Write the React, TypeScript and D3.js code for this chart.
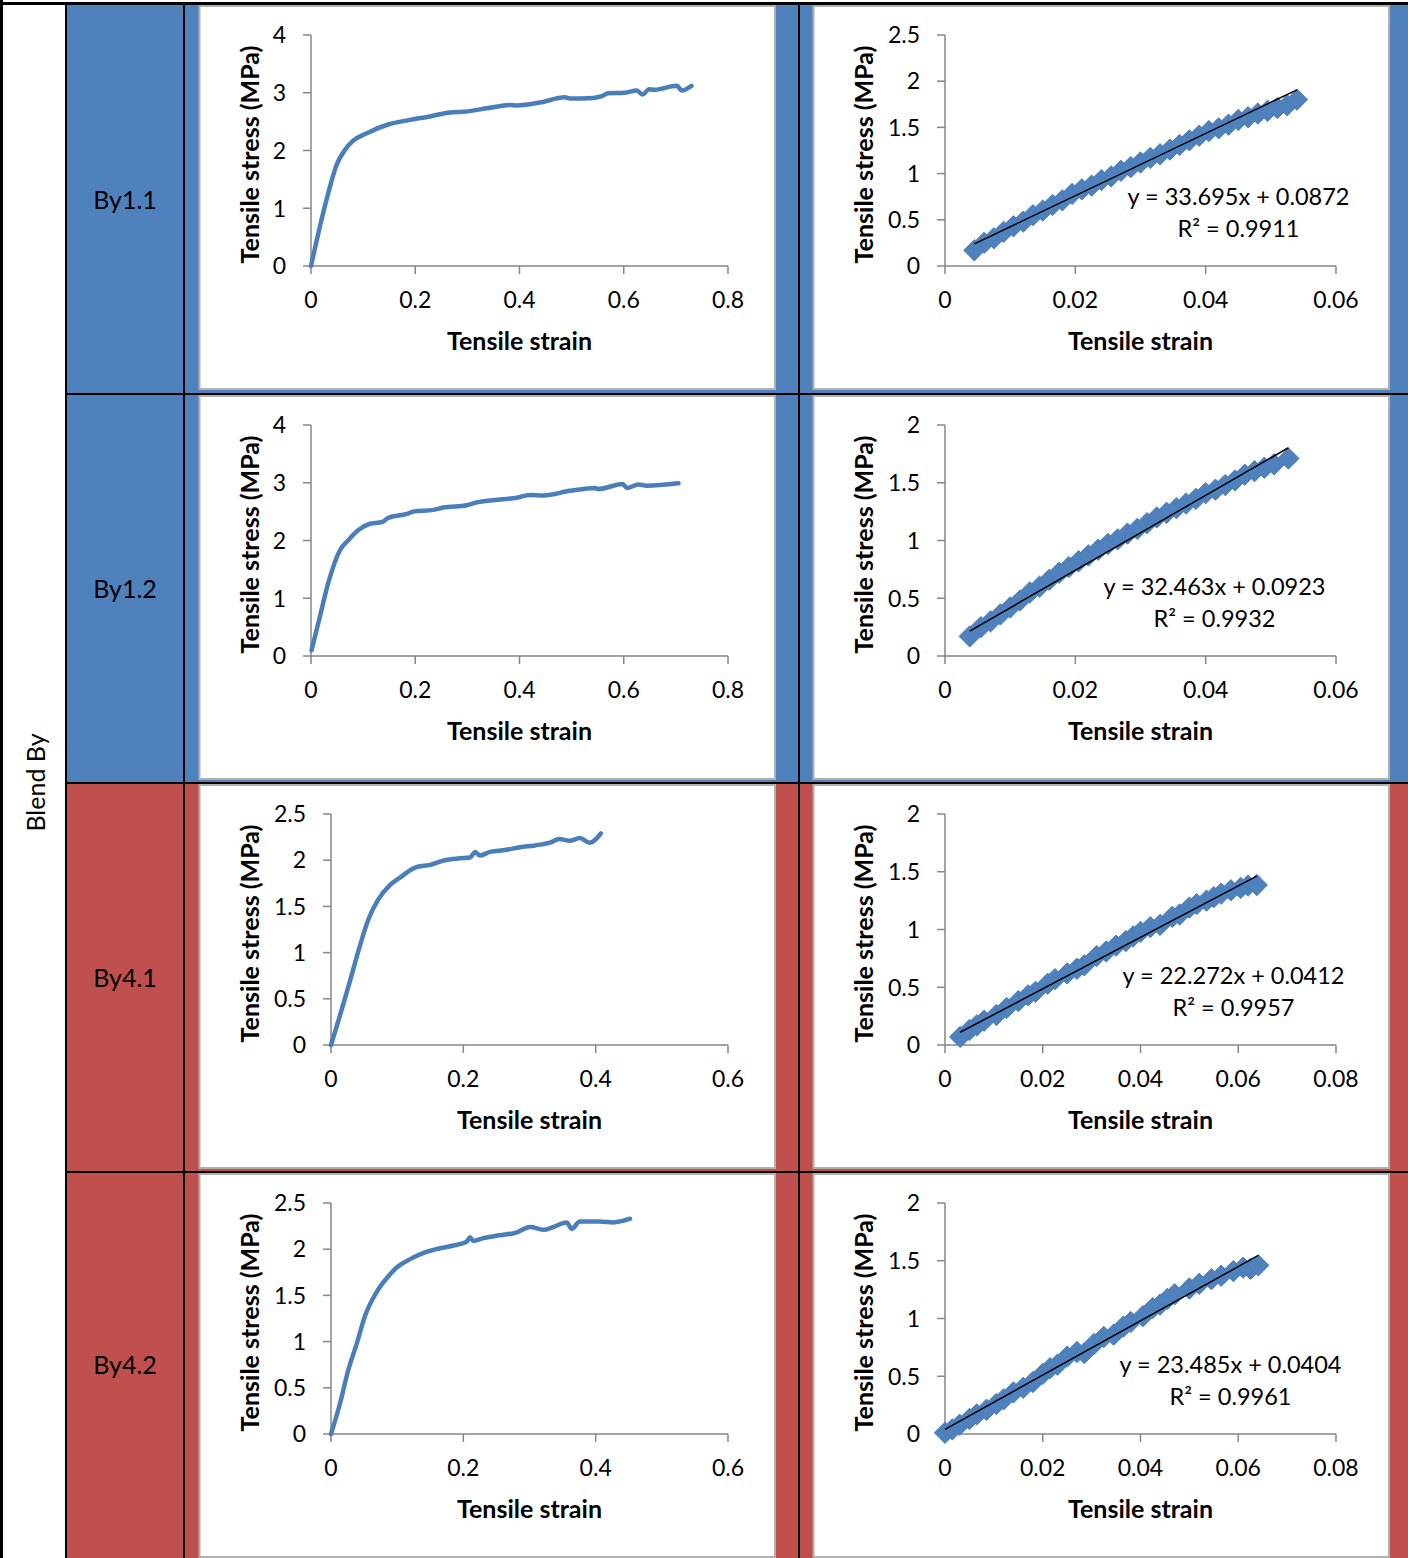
import React from "react";
import * as d3 from "d3";

// ---------- DATA ----------
const rowLabels = ["By1.1", "By1.2", "By4.1", "By4.2"];
const rowColors = ["#4f81bd", "#4f81bd", "#c0504d", "#c0504d"];
const blendLabel = "Blend By";

const xTicksLong = [0, 0.2, 0.4, 0.6, 0.8];
const xTicksShort = [0, 0.2, 0.4, 0.6];
const yTicks4 = [0, 1, 2, 3, 4];
const yTicks25 = [0, 0.5, 1, 1.5, 2, 2.5];
const yTicks2 = [0, 0.5, 1, 1.5, 2];
const xTicksFit6 = [0, 0.02, 0.04, 0.06];
const xTicksFit8 = [0, 0.02, 0.04, 0.06, 0.08];

// full stress-strain curves
const by11Strain = [0, 0.017, 0.033, 0.049, 0.065, 0.081, 0.107, 0.148, 0.19, 0.228, 0.267, 0.292, 0.337, 0.382, 0.395, 0.439, 0.487, 0.497, 0.542, 0.558, 0.57, 0.602, 0.625, 0.636, 0.649, 0.657, 0.702, 0.711, 0.73];
const by11Stress = [0, 0.68, 1.26, 1.75, 2.01, 2.17, 2.3, 2.45, 2.53, 2.59, 2.66, 2.67, 2.73, 2.79, 2.78, 2.83, 2.92, 2.9, 2.91, 2.94, 2.99, 3.0, 3.04, 2.97, 3.06, 3.05, 3.12, 3.04, 3.12];

const by12Strain = [0.001, 0.017, 0.033, 0.056, 0.072, 0.091, 0.113, 0.136, 0.148, 0.184, 0.196, 0.235, 0.254, 0.299, 0.318, 0.363, 0.395, 0.42, 0.446, 0.497, 0.545, 0.551, 0.598, 0.606, 0.628, 0.644, 0.705];
const by12Stress = [0.1, 0.68, 1.26, 1.84, 2.01, 2.18, 2.29, 2.32, 2.39, 2.46, 2.5, 2.53, 2.57, 2.61, 2.66, 2.71, 2.74, 2.79, 2.78, 2.86, 2.91, 2.89, 2.98, 2.91, 2.97, 2.95, 2.99];

const by41Strain = [0, 0.0136, 0.029, 0.044, 0.056, 0.071, 0.089, 0.104, 0.127, 0.15, 0.172, 0.195, 0.21, 0.218, 0.225, 0.24, 0.263, 0.286, 0.308, 0.331, 0.345, 0.361, 0.376, 0.391, 0.408];
const by41Stress = [0, 0.32, 0.7, 1.08, 1.35, 1.57, 1.73, 1.81, 1.92, 1.95, 2.0, 2.02, 2.03, 2.09, 2.05, 2.09, 2.11, 2.14, 2.16, 2.19, 2.23, 2.21, 2.24, 2.19, 2.29];

const by42Strain = [0, 0.0136, 0.026, 0.039, 0.051, 0.071, 0.087, 0.099, 0.119, 0.14, 0.165, 0.185, 0.205, 0.21, 0.215, 0.23, 0.255, 0.28, 0.301, 0.321, 0.336, 0.356, 0.364, 0.376, 0.406, 0.427, 0.452];
const by42Stress = [0, 0.33, 0.69, 0.98, 1.27, 1.56, 1.71, 1.8, 1.89, 1.96, 2.01, 2.04, 2.08, 2.13, 2.09, 2.12, 2.15, 2.18, 2.24, 2.21, 2.24, 2.29, 2.22, 2.3, 2.3, 2.29, 2.33];

// linear (elastic) region points
const fit11Strain = [0.0045, 0.006, 0.0075, 0.009, 0.0105, 0.012, 0.0135, 0.015, 0.0165, 0.018, 0.0195, 0.021, 0.0225, 0.024, 0.0255, 0.027, 0.0285, 0.03, 0.0315, 0.033, 0.0345, 0.036, 0.0375, 0.039, 0.0405, 0.042, 0.0435, 0.045, 0.0465, 0.048, 0.0495, 0.051, 0.0525, 0.054];
const fit11Stress = [0.17, 0.25, 0.3, 0.37, 0.43, 0.48, 0.55, 0.6, 0.66, 0.71, 0.78, 0.83, 0.87, 0.93, 0.97, 1.03, 1.07, 1.12, 1.17, 1.21, 1.26, 1.31, 1.36, 1.41, 1.46, 1.49, 1.53, 1.58, 1.61, 1.65, 1.68, 1.71, 1.74, 1.8];

const fit12Strain = [0.0038, 0.0055, 0.007, 0.0085, 0.01, 0.0115, 0.013, 0.0145, 0.016, 0.0175, 0.019, 0.0205, 0.022, 0.0235, 0.025, 0.0265, 0.028, 0.0295, 0.031, 0.0325, 0.034, 0.0355, 0.037, 0.0385, 0.04, 0.0415, 0.043, 0.0445, 0.046, 0.0475, 0.049, 0.0505, 0.0527];
const fit12Stress = [0.17, 0.25, 0.3, 0.36, 0.42, 0.48, 0.55, 0.6, 0.66, 0.72, 0.77, 0.82, 0.87, 0.92, 0.97, 1.01, 1.06, 1.1, 1.15, 1.2, 1.24, 1.28, 1.32, 1.36, 1.41, 1.44, 1.48, 1.52, 1.57, 1.6, 1.63, 1.66, 1.71];

const fit41Strain = [0.0031, 0.005, 0.0065, 0.008, 0.0105, 0.0126, 0.015, 0.017, 0.0185, 0.021, 0.0225, 0.025, 0.027, 0.0285, 0.031, 0.033, 0.035, 0.037, 0.0385, 0.04, 0.042, 0.044, 0.0465, 0.048, 0.05, 0.0515, 0.0535, 0.055, 0.0565, 0.0585, 0.0605, 0.062, 0.0638];
const fit41Stress = [0.07, 0.13, 0.17, 0.21, 0.26, 0.32, 0.38, 0.43, 0.46, 0.53, 0.57, 0.62, 0.66, 0.69, 0.77, 0.81, 0.86, 0.9, 0.94, 0.98, 1.02, 1.04, 1.11, 1.13, 1.19, 1.22, 1.25, 1.28, 1.31, 1.34, 1.36, 1.38, 1.385];

const fit42Strain = [0, 0.0015, 0.003, 0.005, 0.0065, 0.0085, 0.0105, 0.012, 0.014, 0.016, 0.018, 0.02, 0.0215, 0.023, 0.025, 0.027, 0.0285, 0.0305, 0.0325, 0.0345, 0.0365, 0.038, 0.0405, 0.0425, 0.044, 0.0455, 0.047, 0.05, 0.052, 0.0545, 0.0565, 0.059, 0.061, 0.0625, 0.0641];
const fit42Stress = [0.01, 0.04, 0.08, 0.13, 0.17, 0.21, 0.26, 0.3, 0.36, 0.4, 0.45, 0.52, 0.57, 0.6, 0.67, 0.71, 0.7, 0.78, 0.84, 0.86, 0.93, 0.97, 1.02, 1.09, 1.12, 1.17, 1.21, 1.26, 1.3, 1.34, 1.37, 1.41, 1.44, 1.43, 1.46];

const fitSlopes = [33.695, 32.463, 22.272, 23.485];
const fitIntercepts = [0.0872, 0.0923, 0.0412, 0.0404];
const fitEquations = ["y = 33.695x + 0.0872", "y = 32.463x + 0.0923", "y = 22.272x + 0.0412", "y = 23.485x + 0.0404"];
const fitR2 = ["R² = 0.9911", "R² = 0.9932", "R² = 0.9957", "R² = 0.9961"];

const curveStrains = [by11Strain, by12Strain, by41Strain, by42Strain];
const curveStresses = [by11Stress, by12Stress, by41Stress, by42Stress];
const fitStrains = [fit11Strain, fit12Strain, fit41Strain, fit42Strain];
const fitStresses = [fit11Stress, fit12Stress, fit41Stress, fit42Stress];
const curveXTicks = [xTicksLong, xTicksLong, xTicksShort, xTicksShort];
const curveYTicks = [yTicks4, yTicks4, yTicks25, yTicks25];
const fitXTicks = [xTicksFit6, xTicksFit6, xTicksFit8, xTicksFit8];
const fitYTicks = [yTicks25, yTicks2, yTicks2, yTicks2];

const xTitle = "Tensile strain";
const yTitle = "Tensile stress (MPa)";

// ---------- LAYOUT ----------
const W = 1408;
const H = 1558;
const FONT = "Lato, 'Open Sans', sans-serif";
const panelTops = [6, 396, 785, 1174];
const rowBounds = [5, 394, 783, 1172, 1558];
const eqCenters = [1238.5, 1214.5, 1233.5, 1230.5];
const PANEL_H = 383;
const PLOT_OFF = 29;
const PLOT_H = 231;
const AXIS = "#868686";
const LINE = "#4a7ebb";

function Axes({ x, y, xTicks, yTicks, titleX }) {
  const [x0, x1] = x.range();
  const [y0, y1] = y.range();
  return (
    <g>
      <line x1={x0} x2={x0} y1={y1} y2={y0} stroke={AXIS} strokeWidth={1.5} />
      <line x1={x0} x2={x1} y1={y0} y2={y0} stroke={AXIS} strokeWidth={1.5} />
      {yTicks.map((t) => (
        <g key={"y" + t}>
          <line x1={x0 - 8} x2={x0} y1={y(t)} y2={y(t)} stroke={AXIS} strokeWidth={1.5} />
          <text x={x0 - 25} y={y(t)} dy="0.36em" textAnchor="end" fontSize={23} fontFamily={FONT} fill="#000">{String(t)}</text>
        </g>
      ))}
      {xTicks.map((t) => (
        <g key={"x" + t}>
          <line x1={x(t)} x2={x(t)} y1={y0} y2={y0 + 8} stroke={AXIS} strokeWidth={1.5} />
          <text x={x(t)} y={y0 + 42} textAnchor="middle" fontSize={23} fontFamily={FONT} fill="#000">{String(t)}</text>
        </g>
      ))}
      <text x={(x0 + x1) / 2} y={y0 + 84} textAnchor="middle" fontSize={25} fontWeight="bold" fontFamily={FONT} fill="#000">{xTitle}</text>
      <text transform={`translate(${titleX},${(y0 + y1) / 2 + 4}) rotate(-90)`} textAnchor="middle" fontSize={25} fontWeight="bold" fontFamily={FONT} fill="#000">{yTitle}</text>
    </g>
  );
}

export default function App() {
  const diamondType = (d3 as any).symbolDiamond2 || d3.symbolDiamond;
  const diamond = d3.symbol().type(diamondType).size(290);
  return (
    <svg width={W} height={H} viewBox={`0 0 ${W} ${H}`} style={{ position: "absolute", left: 0, top: 0, display: "block", background: "#fff" }}>
      <rect x={0} y={0} width={W} height={H} fill="#fff" />
      {rowLabels.map((lab, i) => {
        const r0 = rowBounds[i];
        const r1 = rowBounds[i + 1];
        return (
          <g key={"cell" + i}>
            <rect x={67} y={r0} width={117} height={r1 - r0} fill={rowColors[i]} />
            <rect x={185} y={r0} width={W - 185} height={r1 - r0} fill={rowColors[i]} />
            <text x={125} y={(r0 + r1) / 2} dy="0.36em" textAnchor="middle" fontSize={25} fontFamily={FONT} fill="#000">{lab}</text>
          </g>
        );
      })}
      {/* grid lines */}
      <rect x={0} y={0} width={3} height={H} fill="#000" />
      <rect x={0} y={2} width={W} height={3} fill="#000" />
      <rect x={65} y={4} width={2} height={H} fill="#000" />
      <rect x={183} y={4} width={2} height={H} fill="#000" />
      <rect x={798} y={4} width={2} height={H} fill="#000" />
      {rowBounds.slice(1, 4).map((b) => (
        <rect key={"h" + b} x={65} y={b - 1} width={W - 65} height={2} fill="#000" />
      ))}
      <text transform={`translate(45,${(rowBounds[0] + H) / 2 + 1}) rotate(-90)`} textAnchor="middle" fontSize={25} fontFamily={FONT} fill="#000">{blendLabel}</text>

      {panelTops.map((pt, i) => {
        const plotTop = pt + PLOT_OFF;
        const plotBottom = plotTop + PLOT_H;
        const leftX0 = i < 2 ? 311 : 331;
        const xL = d3.scaleLinear().domain([0, curveXTicks[i][curveXTicks[i].length - 1]]).range([leftX0, 728]);
        const yL = d3.scaleLinear().domain([0, curveYTicks[i][curveYTicks[i].length - 1]]).range([plotBottom, plotTop]);
        const xR = d3.scaleLinear().domain([0, fitXTicks[i][fitXTicks[i].length - 1]]).range([945, 1336]);
        const yR = d3.scaleLinear().domain([0, fitYTicks[i][fitYTicks[i].length - 1]]).range([plotBottom, plotTop]);
        const pts = curveStrains[i].map((s, k) => [s, curveStresses[i][k]] as [number, number]);
        const line = d3.line<[number, number]>().x((d) => xL(d[0])).y((d) => yL(d[1])).curve(d3.curveMonotoneX);
        const fx = fitStrains[i];
        const fy = fitStresses[i];
        const fxMin = d3.min(fx) as number;
        const fxMax = d3.max(fx) as number;
        return (
          <g key={"panel" + i}>
            <rect x={199.5} y={pt} width={575.5} height={PANEL_H} fill="#fff" stroke="#b0b0b0" strokeWidth={2} />
            <rect x={813.5} y={pt} width={575.5} height={PANEL_H} fill="#fff" stroke="#b0b0b0" strokeWidth={2} />
            <Axes x={xL} y={yL} xTicks={curveXTicks[i]} yTicks={curveYTicks[i]} titleX={259} />
            <path d={line(pts) || ""} fill="none" stroke={LINE} strokeWidth={4.5} strokeLinejoin="round" strokeLinecap="round" />
            <Axes x={xR} y={yR} xTicks={fitXTicks[i]} yTicks={fitYTicks[i]} titleX={873} />
            {fx.map((s, k) => (
              <path key={"d" + k} d={diamond() || ""} transform={`translate(${xR(s)},${yR(fy[k])})`} fill="#4f81bd" stroke="#4a7ebb" strokeWidth={1} />
            ))}
            <line x1={xR(fxMin)} x2={xR(fxMax)} y1={yR(fitSlopes[i] * fxMin + fitIntercepts[i])} y2={yR(fitSlopes[i] * fxMax + fitIntercepts[i])} stroke="#000" strokeWidth={1.5} />
            <text x={eqCenters[i]} y={plotTop + 170} textAnchor="middle" fontSize={23.5} fontFamily={FONT} fill="#000">{fitEquations[i]}</text>
            <text x={eqCenters[i]} y={plotTop + 202} textAnchor="middle" fontSize={23.5} fontFamily={FONT} fill="#000">{fitR2[i]}</text>
          </g>
        );
      })}
    </svg>
  );
}
